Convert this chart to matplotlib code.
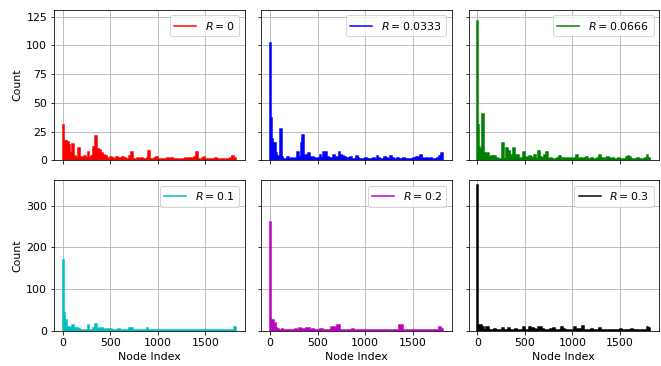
import numpy as np
import matplotlib
matplotlib.use("Agg")
import matplotlib.pyplot as plt

plt.rcParams["font.size"] = 11

# bin edges along the node index: 10 wide up to 100, then 20 wide up to 1820
edges = np.concatenate([np.arange(0, 100, 10), np.arange(100, 1821, 20)])

radii = ["0", "0.0333", "0.0666", "0.1", "0.2", "0.3"]
colors = ["r", "b", "g", "c", "m", "k"]

# counts, one list per R value
counts_r0 = [31, 17, 16, 17, 12, 16, 13, 6, 5, 6,
             14, 4, 2, 11, 3, 2, 4, 2, 7, 2,
             4, 12, 21, 10, 9, 6, 5, 4, 2, 1,
             3, 2, 1, 3, 2, 2, 3, 2, 1, 1,
             4, 7, 1, 0, 2, 1, 2, 1, 1, 2,
             8, 1, 0, 2, 3, 1, 1, 1, 1, 1,
             2, 1, 2, 1, 1, 1, 0, 1, 1, 2,
             1, 2, 2, 2, 3, 7, 1, 0, 2, 3,
             1, 1, 1, 1, 1, 2, 1, 0, 1, 1,
             0, 1, 1, 2, 4, 2]
counts_r1 = [102, 37, 19, 8, 15, 15, 6, 4, 4, 4,
             27, 3, 1, 1, 3, 1, 2, 1, 2, 7,
             3, 15, 22, 5, 5, 6, 3, 3, 2, 1,
             2, 5, 2, 7, 7, 3, 2, 2, 5, 3,
             3, 7, 5, 4, 3, 2, 2, 3, 1, 1,
             4, 2, 1, 1, 1, 2, 1, 1, 1, 2,
             1, 4, 2, 1, 1, 3, 2, 1, 4, 2,
             1, 1, 2, 1, 1, 2, 1, 1, 1, 1,
             2, 2, 3, 3, 5, 2, 1, 2, 1, 2,
             1, 1, 1, 2, 4, 6]
counts_r2 = [121, 31, 12, 10, 10, 40, 40, 5, 6, 6,
             6, 3, 4, 3, 4, 2, 1, 1, 15, 1,
             11, 8, 5, 3, 11, 5, 5, 2, 2, 7,
             3, 2, 4, 3, 2, 5, 1, 8, 3, 2,
             5, 7, 1, 2, 1, 1, 1, 2, 4, 1,
             2, 1, 2, 1, 2, 1, 2, 5, 1, 2,
             1, 2, 3, 1, 1, 2, 1, 1, 2, 5,
             2, 1, 2, 3, 2, 1, 2, 1, 1, 2,
             1, 1, 1, 3, 4, 3, 1, 1, 1, 2,
             1, 1, 1, 2, 5, 2]
counts_r3 = [170, 44, 18, 25, 10, 9, 9, 6, 6, 6,
             14, 6, 6, 4, 3, 2, 2, 2, 14, 2,
             3, 6, 16, 4, 6, 6, 5, 5, 5, 4,
             5, 3, 3, 3, 4, 3, 3, 3, 2, 3,
             7, 7, 3, 3, 2, 3, 2, 2, 2, 6,
             2, 2, 2, 1, 2, 3, 2, 2, 2, 3,
             2, 2, 3, 2, 2, 2, 3, 2, 2, 2,
             3, 2, 2, 2, 2, 2, 2, 3, 2, 2,
             3, 3, 2, 2, 3, 2, 2, 2, 2, 2,
             2, 2, 2, 2, 3, 9]
counts_r4 = [262, 22, 25, 25, 18, 18, 6, 4, 4, 3,
             3, 4, 2, 2, 3, 2, 3, 2, 5, 3,
             8, 3, 4, 4, 6, 6, 3, 4, 3, 2,
             2, 5, 5, 3, 2, 3, 3, 9, 9, 10,
             14, 14, 1, 2, 2, 2, 2, 3, 5, 2,
             2, 2, 3, 2, 2, 2, 3, 2, 2, 3,
             2, 2, 2, 3, 2, 2, 2, 3, 2, 2,
             2, 2, 2, 14, 14, 2, 2, 2, 2, 3,
             3, 2, 2, 3, 2, 2, 2, 2, 2, 2,
             2, 2, 2, 3, 9, 5]
counts_r5 = [349, 14, 14, 13, 13, 9, 9, 2, 2, 9,
             9, 1, 1, 2, 4, 2, 1, 2, 7, 2,
             2, 6, 3, 2, 2, 4, 2, 2, 3, 10,
             2, 2, 9, 7, 7, 4, 3, 10, 9, 4,
             3, 3, 2, 5, 3, 6, 3, 3, 2, 9,
             4, 2, 2, 2, 2, 2, 10, 4, 4, 4,
             12, 2, 2, 2, 3, 4, 2, 2, 3, 6,
             2, 2, 2, 2, 2, 2, 2, 3, 2, 2,
             4, 2, 2, 2, 3, 2, 5, 3, 2, 2,
             2, 2, 2, 3, 10, 6]

all_counts = [counts_r0, counts_r1, counts_r2, counts_r3, counts_r4, counts_r5]
row_ylim = [131, 361]

fig, axes = plt.subplots(2, 3, sharex=True, sharey='row',
                         figsize=(661 / 72, 366 / 72), dpi=72)
fig.subplots_adjust(left=0.082, right=0.997, top=0.973, bottom=0.096,
                    wspace=0.089, hspace=0.133)

for i, ax in enumerate(axes.flat):
    c = colors[i]
    ax.stairs(all_counts[i], edges, fill=True, color=c, lw=0)
    ax.stairs(all_counts[i], edges, color=c, lw=1.5, label="$R=%s$" % radii[i])
    ax.grid(True, color="#b0b0b0", lw=0.8)
    ax.set_axisbelow(True)
    ax.set_ylim(0, row_ylim[i // 3])
    ax.legend(loc="upper right")

axes[0, 0].set_yticks([0, 25, 50, 75, 100, 125])
axes[1, 0].set_yticks([0, 100, 200, 300])
axes[1, 0].set_xticks([0, 500, 1000, 1500])
for ax in axes[:, 0]:
    ax.set_ylabel("Count")
for ax in axes[1]:
    ax.set_xlabel("Node Index")

plt.savefig("out.png", dpi=72)
